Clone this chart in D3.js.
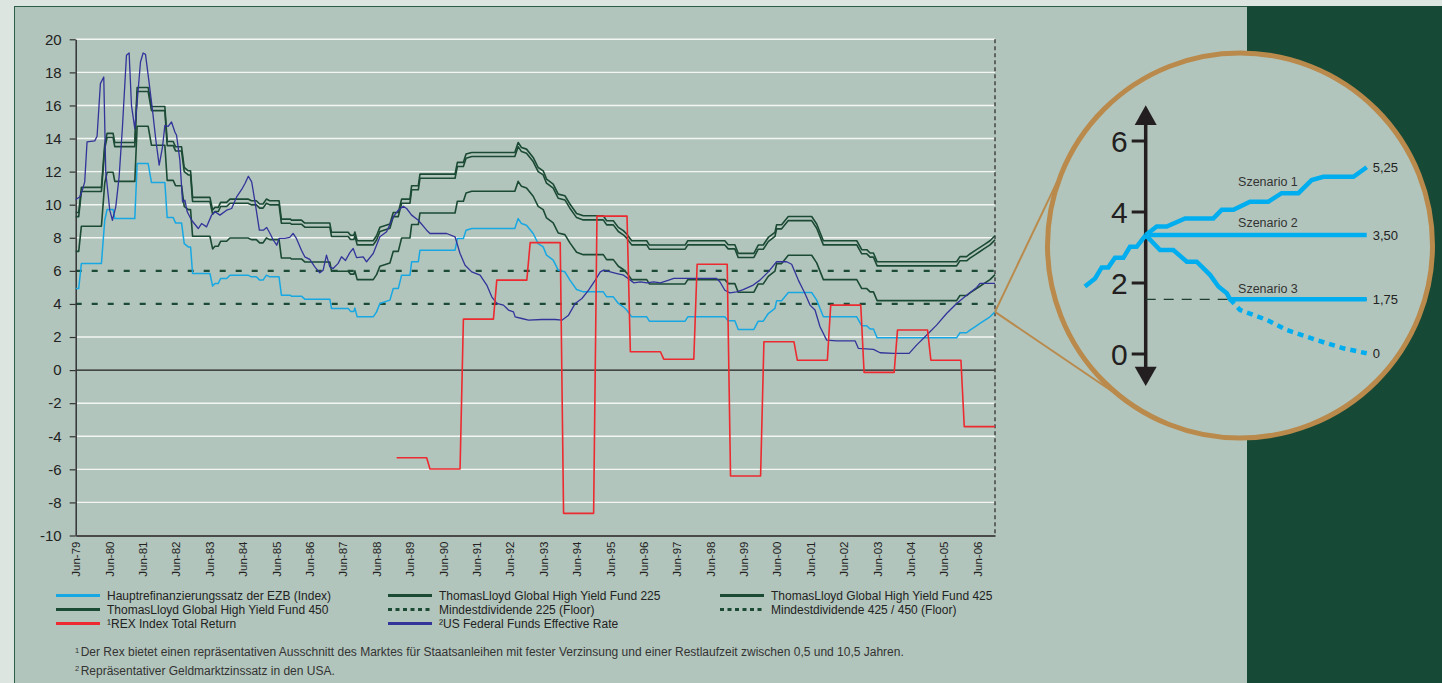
<!DOCTYPE html>
<html>
<head>
<meta charset="utf-8">
<script src="https://cdn.jsdelivr.net/npm/d3@7"></script>
<style>
  html, body { margin: 0; padding: 0; background: #dce5e0; }
  svg { display: block; font-family: "Liberation Sans", Arial, sans-serif; }
</style>
</head>
<body>
<div id="chart"></div>
<script>
/************ data (decimal years, percent) *****************/

// shared time points of the EZB rate and the three fund lines
const dates = [
  1979.42, 1979.51, 1979.59, 1980.19, 1980.29, 1980.36, 1980.54, 1980.59, 1981.19, 1981.26,
  1981.59, 1981.69, 1982.09, 1982.16, 1982.34, 1982.41, 1982.59, 1982.67, 1982.79, 1982.86,
  1982.92, 1983.44, 1983.52, 1983.59, 1983.69, 1983.76, 1983.94, 1984.04, 1984.58, 1984.68,
  1984.83, 1984.93, 1985.03, 1985.13, 1985.23, 1985.51, 1985.58, 1985.85, 1985.88, 1986.18,
  1986.28, 1987.03, 1987.08, 1987.58, 1987.65, 1987.75, 1987.78, 1987.85, 1988.33, 1988.43,
  1988.53, 1988.83, 1988.93, 1989.08, 1989.18, 1989.43, 1989.48, 1989.68, 1989.73, 1990.78,
  1990.85, 1991.03, 1991.11, 1991.28, 1992.57, 1992.67, 1992.77, 1992.92, 1993.12, 1993.27,
  1993.42, 1993.52, 1993.72, 1993.87, 1994.07, 1994.22, 1994.42, 1994.62, 1995.22, 1995.32,
  1995.52, 1995.67, 1995.82, 1995.92, 1996.07, 1996.52, 1996.60, 1997.67, 1997.75, 1998.86,
  1998.96, 1999.16, 1999.26, 1999.73, 1999.86, 2000.01, 2000.16, 2000.36, 2000.41, 2000.56,
  2000.76, 2001.46, 2001.61, 2001.81, 2002.81, 2002.96, 2003.11, 2003.21, 2003.31, 2003.42,
  2005.80, 2005.90, 2006.10, 2006.20, 2006.35, 2006.50, 2006.65, 2006.80, 2006.95
];

const ezb = [
  4.93, 4.93, 6.45, 6.45, 9.06, 9.71, 9.71, 9.16, 9.16, 12.49,
  12.49, 11.34, 11.34, 9.22, 9.22, 8.90, 8.90, 7.65, 7.45, 7.45,
  5.84, 5.84, 5.08, 5.24, 5.24, 5.54, 5.54, 5.74, 5.74, 5.64,
  5.64, 5.44, 5.44, 5.74, 5.64, 5.64, 4.53, 4.53, 4.47, 4.47,
  4.29, 4.29, 3.73, 3.73, 3.55, 3.55, 3.75, 3.22, 3.22, 3.52,
  4.03, 4.23, 4.93, 4.93, 5.74, 5.74, 6.55, 6.55, 7.25, 7.25,
  7.96, 7.96, 8.46, 8.56, 8.56, 9.16, 8.86, 8.76, 8.26, 7.65,
  7.45, 6.95, 6.65, 6.04, 5.94, 5.44, 4.87, 4.73, 4.73, 4.43,
  4.43, 4.03, 3.83, 3.63, 3.22, 3.22, 2.96, 2.96, 3.22, 3.22,
  2.98, 2.98, 2.46, 2.46, 2.96, 2.96, 3.42, 3.73, 4.19, 4.19,
  4.69, 4.69, 4.23, 3.22, 3.22, 2.68, 2.68, 2.48, 2.48, 1.95,
  1.95, 2.26, 2.26, 2.42, 2.62, 2.82, 3.02, 3.22, 3.52
];

const fund225 = [
  7.18, 7.18, 8.70, 8.70, 11.31, 11.96, 11.96, 11.41, 11.41, 14.74,
  14.74, 13.59, 13.59, 11.47, 11.47, 11.15, 11.15, 9.90, 9.70, 9.70,
  8.09, 8.09, 7.33, 7.49, 7.49, 7.79, 7.79, 7.99, 7.99, 7.89,
  7.89, 7.69, 7.69, 7.99, 7.89, 7.89, 6.78, 6.78, 6.72, 6.72,
  6.54, 6.54, 5.98, 5.98, 5.80, 5.80, 6.00, 5.47, 5.47, 5.77,
  6.28, 6.48, 7.18, 7.18, 7.99, 7.99, 8.80, 8.80, 9.50, 9.50,
  10.21, 10.21, 10.71, 10.81, 10.81, 11.41, 11.11, 11.01, 10.51, 9.90,
  9.70, 9.20, 8.90, 8.29, 8.19, 7.69, 7.12, 6.98, 6.98, 6.68,
  6.68, 6.28, 6.08, 5.88, 5.47, 5.47, 5.21, 5.21, 5.47, 5.47,
  5.23, 5.23, 4.71, 4.71, 5.21, 5.21, 5.67, 5.98, 6.44, 6.44,
  6.94, 6.94, 6.48, 5.47, 5.47, 4.93, 4.93, 4.73, 4.73, 4.20,
  4.20, 4.51, 4.51, 4.67, 4.87, 5.07, 5.27, 5.47, 5.77
];

const fund425 = [
  9.28, 9.28, 10.80, 10.80, 13.41, 14.06, 14.06, 13.51, 13.51, 16.84,
  16.84, 15.69, 15.69, 13.57, 13.57, 13.25, 13.25, 12.00, 11.80, 11.80,
  10.19, 10.19, 9.43, 9.59, 9.59, 9.89, 9.89, 10.09, 10.09, 9.99,
  9.99, 9.79, 9.79, 10.09, 9.99, 9.99, 8.88, 8.88, 8.82, 8.82,
  8.64, 8.64, 8.08, 8.08, 7.90, 7.90, 8.10, 7.57, 7.57, 7.87,
  8.38, 8.58, 9.28, 9.28, 10.09, 10.09, 10.90, 10.90, 11.60, 11.60,
  12.31, 12.31, 12.81, 12.91, 12.91, 13.51, 13.21, 13.11, 12.61, 12.00,
  11.80, 11.30, 11.00, 10.39, 10.29, 9.79, 9.22, 9.08, 9.08, 8.78,
  8.78, 8.38, 8.18, 7.98, 7.57, 7.57, 7.31, 7.31, 7.57, 7.57,
  7.33, 7.33, 6.81, 6.81, 7.31, 7.31, 7.77, 8.08, 8.54, 8.54,
  9.04, 9.04, 8.58, 7.57, 7.57, 7.03, 7.03, 6.83, 6.83, 6.30,
  6.30, 6.61, 6.61, 6.77, 6.97, 7.17, 7.37, 7.57, 7.87
];

const fund450 = [
  9.53, 9.53, 11.05, 11.05, 13.66, 14.31, 14.31, 13.76, 13.76, 17.09,
  17.09, 15.94, 15.94, 13.82, 13.82, 13.50, 13.50, 12.25, 12.05, 12.05,
  10.44, 10.44, 9.68, 9.84, 9.84, 10.14, 10.14, 10.34, 10.34, 10.24,
  10.24, 10.04, 10.04, 10.34, 10.24, 10.24, 9.13, 9.13, 9.07, 9.07,
  8.89, 8.89, 8.33, 8.33, 8.15, 8.15, 8.35, 7.82, 7.82, 8.12,
  8.63, 8.83, 9.53, 9.53, 10.34, 10.34, 11.15, 11.15, 11.85, 11.85,
  12.56, 12.56, 13.06, 13.16, 13.16, 13.76, 13.46, 13.36, 12.86, 12.25,
  12.05, 11.55, 11.25, 10.64, 10.54, 10.04, 9.47, 9.33, 9.33, 9.03,
  9.03, 8.63, 8.43, 8.23, 7.82, 7.82, 7.56, 7.56, 7.82, 7.82,
  7.58, 7.58, 7.06, 7.06, 7.56, 7.56, 8.02, 8.33, 8.79, 8.79,
  9.29, 9.29, 8.83, 7.82, 7.82, 7.28, 7.28, 7.08, 7.08, 6.55,
  6.55, 6.86, 6.86, 7.02, 7.22, 7.42, 7.62, 7.82, 8.12
];

// US Federal Funds Effective Rate
const fedDates = [
  1979.42, 1979.54, 1979.62, 1979.69, 1979.76, 1979.99, 1980.06, 1980.16, 1980.26, 1980.32,
  1980.44, 1980.52, 1980.62, 1980.72, 1980.82, 1980.94, 1981.02, 1981.09, 1981.19, 1981.29,
  1981.36, 1981.44, 1981.51, 1981.61, 1981.72, 1981.82, 1981.92, 1982.02, 1982.09, 1982.19,
  1982.29, 1982.39, 1982.44, 1982.54, 1982.62, 1982.69, 1982.76, 1982.89, 1983.09, 1983.19,
  1983.34, 1983.49, 1983.59, 1983.74, 1983.94, 1984.09, 1984.24, 1984.39, 1984.49, 1984.59,
  1984.69, 1984.79, 1984.92, 1985.04, 1985.14, 1985.24, 1985.34, 1985.44, 1985.51, 1985.68,
  1985.83, 1985.93, 1986.03, 1986.18, 1986.28, 1986.43, 1986.58, 1986.73, 1986.83, 1986.93,
  1987.03, 1987.13, 1987.28, 1987.38, 1987.50, 1987.63, 1987.73, 1987.83, 1988.03, 1988.13,
  1988.33, 1988.53, 1988.73, 1988.93, 1989.08, 1989.23, 1989.33, 1989.48, 1989.68, 1989.93,
  1990.03, 1990.53, 1990.78, 1990.93, 1991.08, 1991.28, 1991.53, 1991.73, 1991.88, 1992.03,
  1992.23, 1992.38, 1992.53, 1992.58, 1992.78, 1992.98, 1993.38, 1993.78, 1993.98, 1994.18,
  1994.38, 1994.58, 1994.78, 1994.98, 1995.13, 1995.23, 1995.43, 1995.63, 1995.83, 1996.03,
  1996.13, 1996.33, 1996.53, 1996.73, 1996.93, 1997.18, 1997.33, 1998.61, 1998.71, 1998.86,
  1999.01, 1999.21, 1999.41, 1999.71, 1999.91, 2000.16, 2000.41, 2000.71, 2000.86, 2001.06,
  2001.26, 2001.41, 2001.56, 2001.71, 2001.91, 2002.21, 2002.76, 2002.86, 2003.31, 2003.51,
  2003.91, 2004.38, 2004.60, 2004.90, 2005.20, 2005.50, 2005.80, 2006.10, 2006.40, 2006.50,
  2006.95
];
const fedRates = [
  10.31, 10.47, 10.88, 11.38, 13.80, 13.86, 14.14, 17.32, 17.72, 11.98,
  9.67, 9.06, 9.87, 11.68, 14.70, 19.03, 19.17, 16.01, 14.60, 16.92,
  18.63, 19.17, 19.09, 17.52, 15.71, 13.90, 12.39, 13.49, 14.80, 14.74,
  15.00, 14.40, 14.20, 12.69, 10.17, 10.27, 9.57, 9.06, 8.56, 8.86,
  8.66, 9.37, 9.57, 9.37, 9.67, 9.77, 10.47, 10.92, 11.28, 11.72,
  11.38, 10.17, 8.46, 8.46, 8.62, 8.26, 7.85, 7.55, 7.96, 7.96,
  8.02, 8.26, 7.96, 7.25, 6.85, 6.69, 6.24, 5.88, 6.04, 6.95,
  6.24, 6.14, 6.45, 6.85, 6.63, 7.10, 7.35, 6.80, 6.85, 6.55,
  7.05, 8.06, 8.36, 9.26, 9.67, 9.91, 9.77, 9.37, 9.06, 8.46,
  8.26, 8.26, 8.06, 7.05, 6.34, 5.94, 5.74, 5.14, 4.43, 4.03,
  3.93, 3.63, 3.52, 3.22, 3.12, 3.02, 3.06, 3.06, 3.02, 3.32,
  4.03, 4.33, 4.83, 5.44, 5.94, 6.04, 5.94, 5.84, 5.74, 5.44,
  5.28, 5.34, 5.28, 5.34, 5.28, 5.44, 5.54, 5.54, 5.34, 4.83,
  4.67, 4.73, 4.87, 5.14, 5.44, 5.94, 6.55, 6.55, 6.40, 5.44,
  4.63, 3.93, 3.63, 2.62, 1.81, 1.77, 1.77, 1.31, 1.25, 1.05,
  1.01, 1.01, 1.51, 2.11, 2.72, 3.42, 4.03, 4.53, 5.00, 5.24,
  5.24
];

// REX Index Total Return, one value per calendar year
const rexYears = [1989, 1990, 1991, 1992, 1993, 1994, 1995, 1996, 1997,
                  1998, 1999, 2000, 2001, 2002, 2003, 2004, 2005, 2006];
const rexReturns = [-5.30, -5.98, 3.08, 5.44, 7.71, -8.66, 9.31, 1.11, 0.66,
                    6.40, -6.40, 1.71, 0.60, 3.93, -0.14, 2.42, 0.60, -3.42];

const floorValues = [6, 4];
const yTicks = d3.range(-10, 21, 2);
const xTickYears = d3.range(1979, 2007);

const legendLabels = [
  'Hauptrefinanzierungssatz der EZB (Index)',
  'ThomasLloyd Global High Yield Fund 225',
  'ThomasLloyd Global High Yield Fund 425',
  'ThomasLloyd Global High Yield Fund 450',
  'Mindestdividende 225 (Floor)',
  'Mindestdividende 425 / 450 (Floor)',
  '\u00b9REX Index Total Return',
  '\u00b2US Federal Funds Effective Rate'
];
const footnotes = [
  ['1', 'Der Rex bietet einen repräsentativen Ausschnitt des Marktes für Staatsanleihen mit fester Verzinsung und einer Restlaufzeit zwischen 0,5 und 10,5 Jahren.'],
  ['2', 'Repräsentativer Geldmarktzinssatz in den USA.']
];

// inset (zoomed outlook), t in periods after today
const insetHistT = [-2.75, -2.29, -1.99, -1.69, -1.39, -1.01, -0.71, -0.41, 0];
const insetHistV = [1.90, 2.13, 2.44, 2.44, 2.71, 2.71, 3.02, 3.02, 3.35];
const scen1T = [0, 0.50, 0.95, 1.78, 3.06, 3.44, 3.97, 4.72, 5.55, 6.15, 6.91, 7.51, 8.04, 9.40, 10];
const scen1V = [3.35, 3.59, 3.59, 3.82, 3.82, 4.06, 4.06, 4.29, 4.29, 4.53, 4.53, 4.90, 4.99, 4.99, 5.26];
const scen2T = [0, 10];
const scen2V = [3.35, 3.35];
const scen3T = [0, 0.65, 1.25, 1.86, 2.31, 2.91, 3.29, 3.67, 3.82, 10];
const scen3V = [3.35, 2.93, 2.93, 2.60, 2.60, 2.23, 1.90, 1.71, 1.54, 1.54];
const scen3bT = [3.82, 4.27, 5.48, 6.38, 7.74, 8.94, 10];
const scen3bV = [1.54, 1.24, 0.96, 0.68, 0.39, 0.16, 0.02];
const insetFloor = 1.54;
const insetTicks = [0, 2, 4, 6];
const scenNames = ['Szenario 1', 'Szenario 2', 'Szenario 3'];
const scenEndLabels = ['5,25', '3,50', '1,75', '0'];

/************ drawing *****************/

const W = 1442, H = 683;
const FONT = '"Liberation Sans", Arial, sans-serif';
const cEzb = '#17a8e3', cFund = '#1b4a35', cRex = '#ec2a2f', cFed = '#33339a', cGold = '#b98a4b';

const svg = d3.select('#chart').append('svg')
    .attr('width', W).attr('height', H);

svg.append('rect').attr('width', W).attr('height', H).attr('fill', '#dce5e0');
svg.append('rect')
    .attr('x', 14.5).attr('y', 6.5).attr('width', W).attr('height', H)
    .attr('fill', '#b2c5bc').attr('stroke', '#2d5e48');
svg.append('rect')
    .attr('x', 1247).attr('y', 6).attr('width', W - 1247).attr('height', H)
    .attr('fill', '#164a37');

const x = d3.scaleLinear().domain([1979.42, 2006.95]).range([75.7, 995]);
const y = d3.scaleLinear().domain([-10, 20]).range([535.5, 39.3]);
const [x0, x1] = x.range();

// grid
svg.append('g').selectAll('line')
    .data(yTicks.filter(v => v > -10 && v !== 0 && !floorValues.includes(v)))
    .join('line')
    .attr('x1', x0).attr('x2', x1)
    .attr('y1', d => y(d)).attr('y2', d => y(d))
    .attr('stroke', '#f3f6f3').attr('stroke-width', 1.4);

svg.append('line')
    .attr('x1', x0).attr('x2', x1).attr('y1', y(0)).attr('y2', y(0))
    .attr('stroke', '#1e1e1e').attr('stroke-width', 1.4);

// floors
svg.append('g').selectAll('line')
    .data(floorValues).join('line')
    .attr('x1', x0).attr('x2', x1)
    .attr('y1', d => y(d)).attr('y2', d => y(d))
    .attr('stroke', cFund).attr('stroke-width', 2.2)
    .attr('stroke-dasharray', '6,10');

// right dashed border
svg.append('line')
    .attr('x1', x1).attr('x2', x1).attr('y1', y(20)).attr('y2', y(-10))
    .attr('stroke', '#444').attr('stroke-width', 1.5)
    .attr('stroke-dasharray', '4,3');

// y axis
const yAxis = svg.append('g')
    .attr('transform', `translate(${x0},0)`)
    .call(d3.axisLeft(y).tickValues(yTicks).tickSize(6).tickSizeOuter(0)
      .tickPadding(8).tickFormat(d => String(d)));
yAxis.attr('font-family', FONT).attr('font-size', 15);
yAxis.select('.domain').attr('stroke', '#333').attr('stroke-width', 1.5);
yAxis.selectAll('.tick line').attr('stroke', '#333').attr('stroke-width', 1.2);
yAxis.selectAll('.tick text').attr('fill', '#222');

// x axis
const xAxis = svg.append('g')
    .attr('transform', `translate(0,${y(-10)})`)
    .call(d3.axisBottom(x).tickValues(xTickYears.map(yr => yr + 0.42))
      .tickSize(0).tickFormat(d => 'Jun-' + String(Math.floor(d) % 100).padStart(2, '0')));
xAxis.attr('font-family', FONT).attr('font-size', 11.5);
xAxis.select('.domain').attr('stroke', '#4a4a4a').attr('stroke-width', 2);
xAxis.selectAll('.tick text')
    .attr('fill', '#222')
    .attr('transform', 'rotate(-90)')
    .attr('text-anchor', 'end')
    .attr('x', -6).attr('y', 0).attr('dy', '0.35em');

// series
const line = d3.line().x(d => x(d[0])).y(d => y(d[1]));

function drawSeries(pts, color, width) {
  svg.append('path')
      .datum(pts)
      .attr('d', line)
      .attr('fill', 'none')
      .attr('stroke', color)
      .attr('stroke-width', width)
      .attr('stroke-linejoin', 'round');
}

drawSeries(d3.zip(dates, ezb), cEzb, 1.5);
drawSeries(d3.zip(dates, fund225), cFund, 1.6);
drawSeries(d3.zip(dates, fund425), cFund, 1.6);
drawSeries(d3.zip(dates, fund450), cFund, 1.6);
drawSeries(d3.zip(fedDates, fedRates), cFed, 1.3);

const rexPts = rexYears.flatMap((yr, i) => [
  [yr + 0.03, rexReturns[i]],
  [i === rexYears.length - 1 ? x.domain()[1] : yr + 0.93, rexReturns[i]]
]);
drawSeries(rexPts, cRex, 1.6);

/************ inset *****************/

const cx = 1240, cy = 245.5, r = 192.5;
const vx = x(dates[dates.length - 1]), vy = y(ezb[ezb.length - 1]);

// tangents from the end of the EZB line to the circle
const dist = Math.hypot(cx - vx, cy - vy);
const base = Math.atan2(cy - vy, cx - vx);
const half = Math.asin(r / dist);
const tl = Math.sqrt(dist * dist - r * r);
[base - half, base + half].forEach(a => {
  svg.append('line')
      .attr('x1', vx).attr('y1', vy)
      .attr('x2', vx + tl * Math.cos(a)).attr('y2', vy + tl * Math.sin(a))
      .attr('stroke', cGold).attr('stroke-width', 2);
});

svg.append('circle')
    .attr('cx', cx).attr('cy', cy).attr('r', r)
    .attr('fill', '#b2c5bc').attr('stroke', cGold).attr('stroke-width', 5);

const ix = d3.scaleLinear().domain([0, 10]).range([1145.7, 1366.7]);
const iy = d3.scaleLinear().domain([0, 6]).range([354, 141]);
const iline = d3.line().x(d => ix(d[0])).y(d => iy(d[1]));
const ax = ix(0);

// axis with arrows
svg.append('line')
    .attr('x1', ax).attr('x2', ax).attr('y1', iy(6.6)).attr('y2', iy(-0.5))
    .attr('stroke', '#231f20').attr('stroke-width', 3.5);
svg.append('path')
    .attr('d', `M${ax},${iy(7.01)} L${ax + 11},${iy(6.45)} L${ax - 11},${iy(6.45)} Z`)
    .attr('fill', '#231f20');
svg.append('path')
    .attr('d', `M${ax},${iy(-0.9)} L${ax + 11},${iy(-0.36)} L${ax - 11},${iy(-0.36)} Z`)
    .attr('fill', '#231f20');

const itick = svg.append('g');
itick.selectAll('line').data(insetTicks).join('line')
    .attr('x1', ax - 14).attr('x2', ax)
    .attr('y1', d => iy(d)).attr('y2', d => iy(d))
    .attr('stroke', '#231f20').attr('stroke-width', 3);
itick.selectAll('text').data(insetTicks).join('text')
    .attr('x', ax - 18).attr('y', d => iy(d)).attr('dy', '0.36em')
    .attr('text-anchor', 'end')
    .attr('font-size', 30).attr('fill', '#231f20')
    .text(d => d);

// floor reference
svg.append('line')
    .attr('x1', ax).attr('x2', ix(10)).attr('y1', iy(insetFloor)).attr('y2', iy(insetFloor))
    .attr('stroke', '#1d3d30').attr('stroke-width', 1.2)
    .attr('stroke-dasharray', '10,8');

function insetPath(t, v, dash) {
  svg.append('path')
      .datum(d3.zip(t, v))
      .attr('d', iline)
      .attr('fill', 'none')
      .attr('stroke', '#00aeef')
      .attr('stroke-width', 4.5)
      .attr('stroke-dasharray', dash || null);
}
insetPath(insetHistT, insetHistV);
insetPath(scen1T, scen1V);
insetPath(scen2T, scen2V);
insetPath(scen3T, scen3V);
insetPath(scen3bT, scen3bV, '6,5');

const scenLabelY = [iy(4.29) - 15.5, iy(3.35) - 8.5, iy(insetFloor) - 6.5];
svg.append('g').selectAll('text').data(scenNames).join('text')
    .attr('x', ix(4.18)).attr('y', (d, i) => scenLabelY[i])
    .attr('font-family', FONT).attr('font-size', 12.5).attr('fill', '#333')
    .text(d => d);

const endVals = [scen1V[scen1V.length - 1], scen2V[1], scen3V[scen3V.length - 1], scen3bV[scen3bV.length - 1]];
svg.append('g').selectAll('text').data(scenEndLabels).join('text')
    .attr('x', ix(10) + 6).attr('y', (d, i) => iy(endVals[i])).attr('dy', '0.35em')
    .attr('font-family', FONT).attr('font-size', 13).attr('fill', '#222')
    .text(d => d);

/************ legend *****************/

const legColors = [cEzb, cFund, cFund, cFund, cFund, cFund, cRex, cFed];
const legDashed = [false, false, false, false, true, true, false, false];
const colX = [56, 388, 720], rowY = [595.5, 609.5, 623.5];

const leg = svg.append('g').attr('font-family', FONT).attr('font-size', 12).attr('fill', '#222');
legendLabels.forEach((label, i) => {
  const lx = colX[i % 3], ly = rowY[Math.floor(i / 3)];
  leg.append('line')
      .attr('x1', lx).attr('x2', lx + 44).attr('y1', ly).attr('y2', ly)
      .attr('stroke', legColors[i]).attr('stroke-width', 3)
      .attr('stroke-dasharray', legDashed[i] ? '4,3.5' : null);
  leg.append('text')
      .attr('x', lx + 51).attr('y', ly + 4.5)
      .text(label);
});

const fn = svg.append('g').attr('font-family', FONT).attr('fill', '#333');
footnotes.forEach((f, i) => {
  const t = fn.append('text').attr('x', 75).attr('y', 656 + i * 18.5).attr('font-size', 12);
  t.append('tspan').attr('font-size', 7.5).attr('dy', -3.5).text(f[0]);
  t.append('tspan').attr('dy', 3.5).attr('dx', 1.5).text(f[1]);
});
</script>
</body>
</html>
